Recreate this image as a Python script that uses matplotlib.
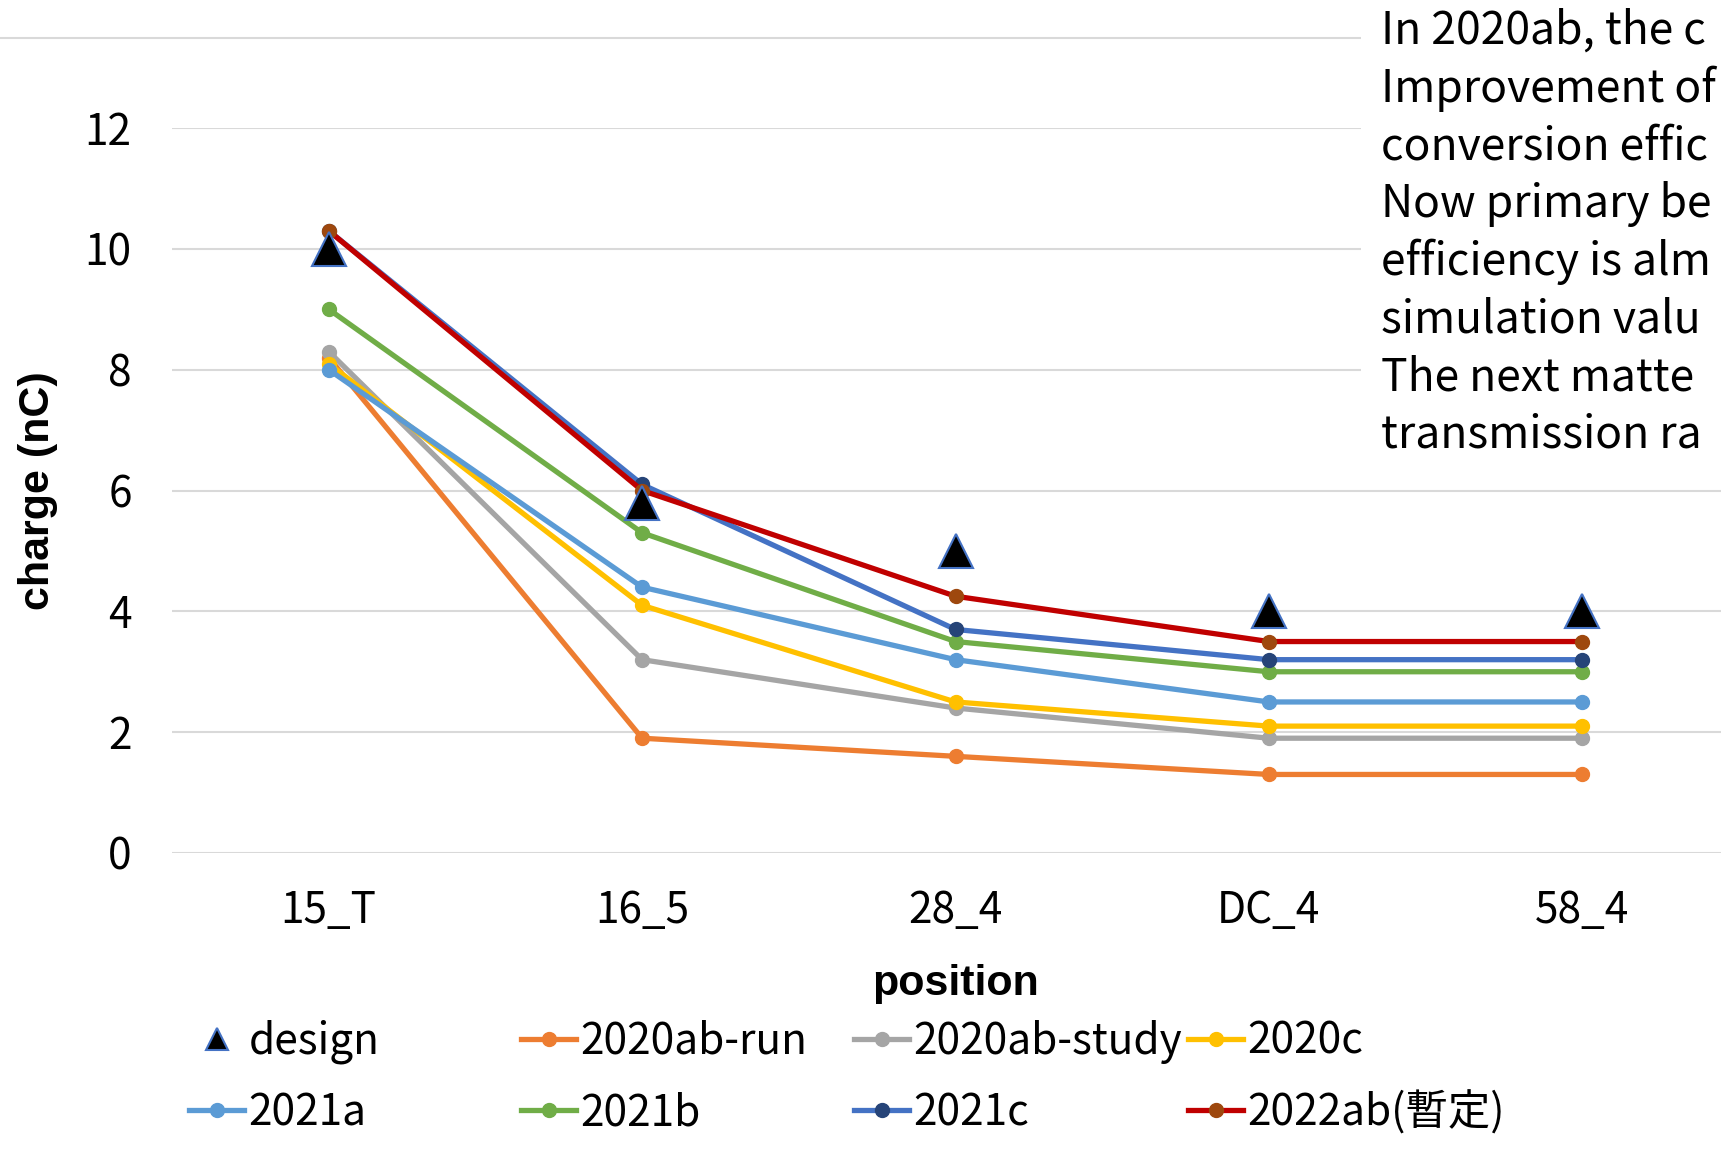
import matplotlib
matplotlib.use("Agg")
import matplotlib.pyplot as plt
from matplotlib.lines import Line2D
from matplotlib.patches import Rectangle

plt.rcParams['font.family'] = ['Noto Sans CJK JP', 'DejaVu Sans']

positions = ["15_T", "16_5", "28_4", "DC_4", "58_4"]

design = [10.0, 5.8, 5.0, 4.0, 4.0]
run_2020ab = [8.2, 1.9, 1.6, 1.3, 1.3]
study_2020ab = [8.3, 3.2, 2.4, 1.9, 1.9]
run_2020c = [8.1, 4.1, 2.5, 2.1, 2.1]
run_2021a = [8.0, 4.4, 3.2, 2.5, 2.5]
run_2021b = [9.0, 5.3, 3.5, 3.0, 3.0]
run_2021c = [10.3, 6.1, 3.7, 3.2, 3.2]
run_2022ab = [10.3, 6.0, 4.25, 3.5, 3.5]

y_ticks = [0, 2, 4, 6, 8, 10, 12]

series = [
    ("2020ab-run", run_2020ab, "#ED7D31", "#ED7D31"),
    ("2020ab-study", study_2020ab, "#A5A5A5", "#A5A5A5"),
    ("2020c", run_2020c, "#FFC000", "#FFC000"),
    ("2021a", run_2021a, "#5B9BD5", "#5B9BD5"),
    ("2021b", run_2021b, "#70AD47", "#70AD47"),
    ("2021c", run_2021c, "#4472C4", "#264478"),
    ("2022ab(暫定)", run_2022ab, "#C00000", "#9E480E"),
]

FS = 30.5
W, H = 1721, 1150
fig = plt.figure(figsize=(W / 100, H / 100), dpi=100)
ax = fig.add_axes([172 / W, 297 / H, 1567 / W, 725 / H])

x = list(range(len(positions)))
handles = {}
for name, vals, lc, mc in series:
    (h,) = ax.plot(x, vals, color=lc, lw=3.8, marker="o", ms=10,
                   mfc=mc, mec=mc, clip_on=False, zorder=3, label=name)
    handles[name] = h

(hd,) = ax.plot(x, design, ls="none", marker="^", ms=24, mfc="black",
                mec="#4472C4", mew=1.5, clip_on=False, zorder=4, label="design")
handles["design"] = hd

ax.set_xlim(-0.5, len(positions) - 0.5)
ax.set_ylim(0, 12)
ax.set_yticks(y_ticks)
ax.set_xticks(x)
ax.set_xticklabels(positions)
ax.tick_params(axis="both", length=0, labelsize=FS, colors="black")
ax.tick_params(axis="y", pad=29)
ax.tick_params(axis="x", pad=26)
ax.grid(axis="y", color="#D9D9D9", lw=1.5)
ax.set_axisbelow(True)
for s in ax.spines.values():
    s.set_visible(False)

ax.set_ylabel("charge (nC)", fontsize=31, fontweight="bold",
              family=["Liberation Sans"])
ax.yaxis.set_label_coords(-0.073, 0.5)
ax.set_xlabel("position", fontsize=31, fontweight="bold",
              family=["Liberation Sans"])
ax.xaxis.set_label_coords(0.5, -0.153)

# legend: four equal-width columns, two rows
leg_cols = [189 / W, 521 / W, 854 / W, 1188 / W]
leg_rows = [1 - 1042 / H, 1 - 1113 / H]
order = [["design", "2021a"], ["2020ab-run", "2021b"],
         ["2020ab-study", "2021c"], ["2020c", "2022ab(暫定)"]]
for ci, col in enumerate(order):
    for ri, name in enumerate(col):
        h = handles[name]
        if name == "design":
            h = Line2D([], [], ls="none", marker="^", ms=16, mfc="black",
                       mec="#4472C4", mew=1.5)
        fig.legend([h], [name], loc="center left",
                   bbox_to_anchor=(leg_cols[ci], leg_rows[ri]),
                   frameon=False, fontsize=FS, borderpad=0,
                   borderaxespad=0, handlelength=1.3,
                   handletextpad=0.1)

# top rule and annotation box
fig.add_artist(Line2D([0, 1361 / W], [1 - 38 / H, 1 - 38 / H],
                      color="#D9D9D9", lw=1.5, transform=fig.transFigure))
fig.add_artist(Rectangle((1361 / W, 1 - 460 / H), 1 - 1361 / W, 460 / H,
                         transform=fig.transFigure, facecolor="white",
                         edgecolor="none", zorder=10))
note = ("In 2020ab, the c\n"
        "Improvement of\n"
        "conversion effic\n"
        "Now primary be\n"
        "efficiency is alm\n"
        "simulation valu\n"
        "The next matte\n"
        "transmission ra")
fig.text(1381 / W, 1 - 8 / H, note, fontsize=32, va="top", ha="left",
         linespacing=1.32, zorder=11)

fig.savefig("out.png", dpi=100)
